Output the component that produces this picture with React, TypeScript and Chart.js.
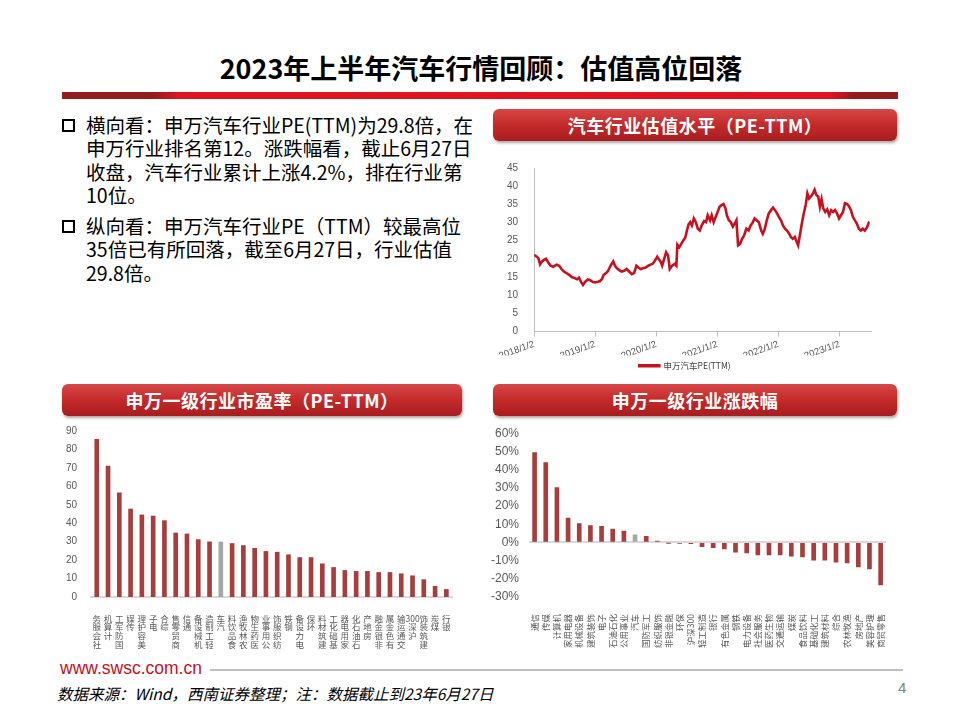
import React, { useEffect, useRef } from 'react';
import { Chart, registerables } from 'chart.js';
Chart.register(...registerables);

// ---------- line chart: 申万汽车PE(TTM) ----------
// months elapsed since 2018/1/2
const peMonths = [0,0.52,0.84,1.17,1.49,1.95,2.33,2.79,3.24,3.76,
  4.41,4.93,5.38,5.84,6.36,6.87,7.39,7.98,8.43,8.82,
  9.27,9.60,10.05,10.57,11.02,11.54,12.0,12.52,12.97,13.36,
  13.68,14.14,14.46,14.79,15.11,15.56,15.89,16.28,16.73,17.19,
  17.70,18.16,18.68,19.20,19.65,20.10,20.49,20.95,21.40,21.92,
  22.44,22.89,23.35,23.74,24.19,24.51,24.84,25.16,25.55,25.94,
  26.33,26.65,27.11,27.63,27.95,28.15,28.53,28.92,29.38,29.70,
  30.03,30.35,30.67,31.00,31.39,31.78,32.17,32.56,32.94,33.40,
  33.79,34.11,34.57,34.89,35.28,35.67,36.06,36.45,36.84,37.22,
  37.61,37.87,38.26,38.65,39.04,39.43,39.75,40.08,40.47,40.86,
  41.25,41.70,42.15,42.54,42.93,43.32,43.71,44.16,44.62,44.94,
  45.27,45.72,46.11,46.56,46.95,47.34,47.73,48.12,48.51,48.90,
  49.29,49.68,50.13,50.45,50.84,51.23,51.62,51.88,52.27,52.72,
  53.05,53.37,53.70,54.02,54.35,54.73,55.12,55.45,55.84,56.16,
  56.49,56.81,57.20,57.59,57.98,58.37,58.75,59.14,59.53,59.92,
  60.31,60.70,61.09,61.48,61.87,62.26,62.65,63.04,63.42,63.81,
  64.20,64.59,64.98,65.37,65.76,65.85];
const peValues = [21.1,20.6,20.2,18.5,19.2,19.7,20.0,19.0,18.1,17.8,
  18.4,18.1,17.2,16.5,16.1,15.6,15.0,14.7,14.4,14.8,
  13.5,12.8,13.7,14.3,14.1,13.6,13.5,13.7,13.9,14.5,
  15.6,16.1,16.5,17.4,18.3,19.3,18.1,17.4,16.9,16.5,
  16.7,17.2,16.5,15.8,16.1,18.1,17.6,17.2,17.4,17.6,
  18.1,18.4,18.7,19.5,20.6,19.9,19.3,18.1,19.9,21.8,
  20.9,17.2,18.1,18.6,18.1,23.9,23.2,24.1,25.2,25.8,
  27.8,29.5,30.1,29.2,31.1,30.1,28.3,27.8,29.2,30.4,
  30.1,32.0,30.6,32.0,30.1,31.5,32.9,34.3,34.8,35.1,
  33.9,32.0,30.6,30.1,28.9,29.7,30.6,23.7,24.1,25.5,
  26.4,28.3,27.8,29.2,29.9,31.1,30.6,30.1,27.8,26.9,
  28.0,30.6,32.5,33.4,34.1,33.4,32.5,31.5,30.6,29.2,
  28.3,27.8,26.9,26.0,25.5,26.0,24.6,23.7,26.9,30.6,
  32.9,34.8,38.0,36.6,37.1,37.8,39.0,37.6,37.1,34.3,
  36.4,33.9,32.9,33.6,32.0,33.4,32.9,33.4,32.5,31.1,
  32.0,32.9,35.3,35.1,34.5,33.4,31.5,30.6,29.7,28.3,
  27.8,28.3,27.8,28.5,29.9,29.8];
const yearTickMonths = [0, 12, 24, 36, 48, 60];
const yearTickLabels = ['2018/1/2', '2019/1/2', '2020/1/2', '2021/1/2', '2022/1/2', '2023/1/2'];
const peSeriesName = '申万汽车PE(TTM)';

// ---------- bar chart: 申万一级行业市盈率 ----------
const peCategories = ['社会服务','计算机','国防军工','传媒','美容护理','电子','综合','商贸零售','通信','机械设备',
  '轻工制造','汽车','食品饮料','农林牧渔','医药生物','公用事业','纺织服饰','钢铁','电力设备','环保',
  '建筑材料','基础化工','家用电器','石油石化','房地产','非银金融','有色金属','交通运输','沪深300','建筑装饰',
  '煤炭','银行'];
const peRatios = [85.5,71.0,56.5,47.7,44.5,43.9,41.4,34.7,34.2,31.1,
  29.9,29.8,29.0,27.9,26.4,24.7,24.3,22.9,21.4,21.4,
  18.0,16.0,14.4,13.9,13.9,13.3,13.3,12.6,11.5,9.4,
  5.8,4.1];

// ---------- bar chart: 申万一级行业涨跌幅 (%) ----------
const chgCategories = ['通信','传媒','计算机','家用电器','机械设备','建筑装饰','电子','石油石化','公用事业','汽车',
  '国防军工','纺织服饰','非银金融','环保','沪深300','轻工制造','银行','有色金属','钢铁','电力设备',
  '社会服务','医药生物','交通运输','煤炭','食品饮料','基础化工','建筑材料','综合','农林牧渔','房地产',
  '美容护理','商贸零售'];
const chgValues = [49.3,43.8,30.1,13.3,10.4,9.3,8.8,7.3,6.2,4.2,
  3.3,0.7,-0.4,-0.5,-0.7,-2.4,-2.9,-3.6,-5.3,-5.8,
  -6.9,-6.9,-6.9,-7.5,-8.0,-9.7,-9.7,-10.8,-11.3,-13.5,
  -14.6,-23.4];

const highlightCategory = '汽车';
const BAR_RED = '#a83d3d';
const BAR_GRAY = '#a6a6a6';
const LINE_RED = '#c8101e';
const TICK_COLOR = '#595959';
const SANS = '"Liberation Sans", "Noto Sans CJK SC", sans-serif';
const CJK = '"Noto Sans CJK SC", "Liberation Sans", sans-serif';

function useChart(ref: React.RefObject<HTMLCanvasElement>, build: () => any) {
  useEffect(() => {
    if (!ref.current) return;
    const chart = new Chart(ref.current, build());
    return () => chart.destroy();
  }, []);
}

function LineChart() {
  const ref = useRef<HTMLCanvasElement>(null);
  useChart(ref, () => ({
    type: 'line',
    data: {
      datasets: [{
        label: peSeriesName,
        data: peMonths.map((m, i) => ({ x: m, y: peValues[i] })),
        borderColor: LINE_RED,
        backgroundColor: LINE_RED,
        borderWidth: 2.6,
        pointRadius: 0,
        tension: 0,
      }],
    },
    options: {
      responsive: false,
      animation: false,
      layout: { padding: { left: 9, right: 29, top: 18, bottom: 0 } },
      plugins: {
        tooltip: { enabled: false },
        legend: {
          position: 'bottom',
          labels: { boxWidth: 20, boxHeight: 1, padding: 6, color: '#404040', font: { size: 8.5, family: CJK } },
        },
      },
      scales: {
        x: {
          type: 'linear',
          min: 0,
          max: 66.2,
          afterBuildTicks: (scale: any) => { scale.ticks = yearTickMonths.map((v) => ({ value: v })); },
          afterFit: (scale: any) => { scale.height = 24; },
          ticks: {
            autoSkip: false,
            minRotation: 20,
            maxRotation: 20,
            padding: 2,
            color: TICK_COLOR,
            font: { size: 9.5, family: SANS },
            callback: (v: number) => {
              const k = yearTickMonths.indexOf(v);
              return k >= 0 ? yearTickLabels[k] : '';
            },
          },
          grid: { display: true, drawOnChartArea: false, drawTicks: true, tickLength: 5, color: '#bfbfbf' },
          border: { display: true, color: '#bfbfbf', width: 1 },
        },
        y: {
          min: 0,
          max: 45,
          ticks: { stepSize: 5, padding: 8, autoSkip: false, color: TICK_COLOR, font: { size: 10, family: SANS } },
          grid: { display: false },
          border: { display: true, color: '#bfbfbf', width: 1 },
        },
      },
    },
  }));
  return <canvas ref={ref} width={410} height={230} style={{ position: 'absolute', left: 490, top: 150 }} />;
}

function stackReversed(label: string): string[] {
  const parts = label.match(/\d+|./g) || [label];
  return parts.slice().reverse();
}

function PeBarChart() {
  const ref = useRef<HTMLCanvasElement>(null);
  useChart(ref, () => ({
    type: 'bar',
    data: {
      labels: peCategories,
      datasets: [{
        data: peRatios,
        backgroundColor: peCategories.map((c) => (c === highlightCategory ? BAR_GRAY : BAR_RED)),
        barThickness: 4,
      }],
    },
    options: {
      responsive: false,
      animation: false,
      layout: { padding: { left: 20, right: 8, top: 4, bottom: 0 } },
      plugins: { legend: { display: false }, tooltip: { enabled: false } },
      scales: {
        x: {
          afterFit: (scale: any) => { scale.height = 60; },
          ticks: {
            autoSkip: false,
            maxRotation: 0,
            minRotation: 0,
            padding: 9,
            color: TICK_COLOR,
            font: { size: 8.5, family: CJK, lineHeight: 1.03 },
            callback: (_v: any, i: number) => stackReversed(peCategories[i]),
          },
          grid: { display: false },
          border: { display: true, color: '#d9d9d9', width: 2 },
        },
        y: {
          min: 0,
          max: 90,
          ticks: { stepSize: 10, padding: 6, autoSkip: false, color: TICK_COLOR, font: { size: 10, family: SANS } },
          grid: { display: false },
          border: { display: false },
        },
      },
    },
  }));
  return <canvas ref={ref} width={420} height={238} style={{ position: 'absolute', left: 40, top: 419 }} />;
}

function ChgBarChart() {
  const ref = useRef<HTMLCanvasElement>(null);
  useChart(ref, () => ({
    type: 'bar',
    data: {
      labels: chgCategories,
      datasets: [{
        data: chgValues,
        backgroundColor: chgCategories.map((c) => (c === highlightCategory ? BAR_GRAY : BAR_RED)),
        barThickness: 4,
      }],
    },
    options: {
      responsive: false,
      animation: false,
      layout: { padding: { left: 1, right: 11, top: 4, bottom: 0 } },
      plugins: { legend: { display: false }, tooltip: { enabled: false } },
      scales: {
        x: {
          afterFit: (scale: any) => { scale.height = 63; },
          ticks: {
            autoSkip: false,
            maxRotation: 90,
            minRotation: 90,
            padding: 9,
            color: TICK_COLOR,
            font: { size: 8.5, family: CJK },
          },
          grid: { display: false },
          border: { display: false },
        },
        y: {
          min: -30,
          max: 60,
          ticks: {
            stepSize: 10,
            padding: 10,
            autoSkip: false,
            color: TICK_COLOR,
            font: { size: 12, family: SANS },
            callback: (v: number) => `${v}%`,
          },
          grid: {
            display: true,
            drawTicks: false,
            lineWidth: 2,
            color: (ctx: any) => (ctx.tick && ctx.tick.value === 0 ? '#d9d9d9' : 'rgba(0,0,0,0)'),
          },
          border: { display: false },
        },
      },
    },
  }));
  return <canvas ref={ref} width={420} height={244} style={{ position: 'absolute', left: 480, top: 416 }} />;
}

function Banner({ left, top, width, text }: { left: number; top: number; width: number; text: string }) {
  return (
    <div
      style={{
        position: 'absolute', left, top, width, height: 32,
        borderRadius: 6,
        background: 'linear-gradient(to bottom, #d64848 0%, #c42a2a 50%, #a81c1f 100%)',
        boxShadow: '1px 2px 3px rgba(0,0,0,0.35)',
        color: '#fff', fontFamily: CJK, fontWeight: 700, fontSize: 18,
        display: 'flex', alignItems: 'center', justifyContent: 'center',
        letterSpacing: 0.5,
      }}
    >
      {text}
    </div>
  );
}

function Bullet({ top }: { top: number }) {
  return (
    <div style={{ position: 'absolute', left: 62, top, width: 9, height: 9, border: '2px solid #000' }} />
  );
}

const para1 = ['横向看：申万汽车行业PE(TTM)为29.8倍，在', '申万行业排名第12。涨跌幅看，截止6月27日', '收盘，汽车行业累计上涨4.2%，排在行业第', '10位。'];
const para2 = ['纵向看：申万汽车行业PE（TTM）较最高位', '35倍已有所回落，截至6月27日，行业估值', '29.8倍。'];

function Para({ lines, top }: { lines: string[]; top: number }) {
  return (
    <div style={{ position: 'absolute', left: 86, top, fontFamily: CJK, fontSize: 19.5, lineHeight: '23.4px', color: '#000', whiteSpace: 'nowrap' }}>
      {lines.map((l, i) => (<div key={i}>{l}</div>))}
    </div>
  );
}

export default function App() {
  return (
    <div style={{ position: 'absolute', left: 0, top: 0, width: 960, height: 720, background: '#fff', overflow: 'hidden' }}>
      <div style={{ position: 'absolute', left: 0, top: 50, width: 962, textAlign: 'center', fontFamily: CJK, fontWeight: 700, fontSize: 27, lineHeight: '36px', color: '#000' }}>
        2023年上半年汽车行情回顾：估值高位回落
      </div>
      <div style={{ position: 'absolute', left: 62, top: 92, width: 836, height: 7,
        background: 'linear-gradient(100deg, #931c1e 0%, #931c1e 11%, #e0141e 14%, #e0141e 92%, #931c1e 94.5%, #931c1e 100%)' }} />

      <Bullet top={119} />
      <Para lines={para1} top={113} />
      <Bullet top={220} />
      <Para lines={para2} top={214} />

      <Banner left={493} top={109} width={404} text="汽车行业估值水平（PE-TTM）" />
      <LineChart />

      <Banner left={62} top={384} width={400} text="申万一级行业市盈率（PE-TTM）" />
      <PeBarChart />

      <Banner left={493} top={384} width={404} text="申万一级行业涨跌幅" />
      <ChgBarChart />

      <div style={{ position: 'absolute', left: 60, top: 657, fontFamily: SANS, fontSize: 17.5, color: '#c8101e', lineHeight: '22px' }}>
        www.swsc.com.cn
      </div>
      <div style={{ position: 'absolute', left: 210, top: 669, width: 693, height: 2, background: '#c0c0c0' }} />
      <div style={{ position: 'absolute', left: 57, top: 682, fontFamily: CJK, fontStyle: 'italic', fontSize: 15.5, lineHeight: '22px', color: '#000', whiteSpace: 'nowrap' }}>
        数据来源：Wind，西南证券整理；注：数据截止到23年6月27日
      </div>
      <div style={{ position: 'absolute', left: 898, top: 678, fontFamily: SANS, fontSize: 15, color: '#7f7f7f', lineHeight: '20px' }}>
        4
      </div>
    </div>
  );
}
